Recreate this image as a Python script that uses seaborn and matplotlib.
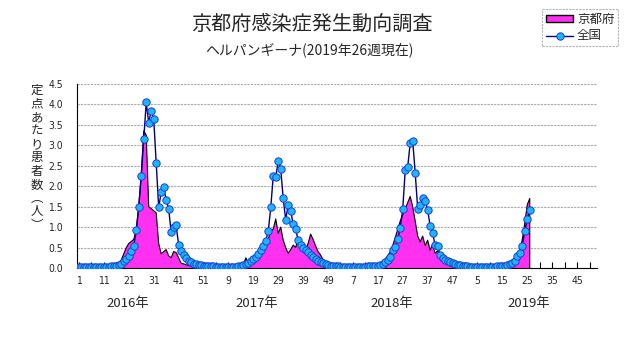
import numpy as np
import pandas as pd
import matplotlib
matplotlib.use("Agg")
import matplotlib.pyplot as plt
from matplotlib.patches import Patch
from matplotlib.lines import Line2D
import seaborn as sns

# ---------------- data ----------------
title = "京都府感染症発生動向調査"
subtitle = "ヘルパンギーナ(2019年26週現在)"
ylabel_chars = ["定", "点", "あ", "た", "り", "患", "者", "数", "︵", "人", "︶"]
series_labels = ["京都府", "全国"]
years = ["2016年", "2017年", "2018年", "2019年"]

kyoto_2016 = [0.03, 0.03, 0.02, 0.02, 0.02, 0.02, 0.02, 0.02, 0.02, 0.02,
              0.02, 0.03, 0.03, 0.04, 0.05, 0.06, 0.10, 0.20, 0.35, 0.50,
              0.60, 0.65, 0.70, 0.95, 1.50, 2.30, 3.35, 3.25, 1.50, 1.45,
              1.40, 1.35, 0.60, 0.35, 0.40, 0.45, 0.30, 0.25, 0.40, 0.38,
              0.25, 0.12, 0.10, 0.08, 0.06, 0.05, 0.05, 0.04, 0.04, 0.03, 0.03, 0.03]
kyoto_2017 = [0.04, 0.03, 0.02, 0.02, 0.02, 0.02, 0.02, 0.02, 0.02, 0.02,
              0.03, 0.03, 0.05, 0.05, 0.08, 0.25, 0.10, 0.15, 0.20, 0.30,
              0.38, 0.45, 0.50, 0.60, 0.70, 0.90, 0.95, 1.20, 0.85, 1.00,
              0.68, 0.50, 0.36, 0.45, 0.56, 0.50, 0.73, 0.68, 0.55, 0.44,
              0.60, 0.83, 0.70, 0.54, 0.40, 0.32, 0.20, 0.15, 0.10, 0.07, 0.05, 0.04]
kyoto_2018 = [0.03, 0.03, 0.02, 0.02, 0.02, 0.02, 0.02, 0.02, 0.02, 0.02,
              0.02, 0.03, 0.03, 0.04, 0.05, 0.05, 0.07, 0.10, 0.15, 0.22,
              0.30, 0.40, 0.55, 0.75, 0.95, 1.15, 1.30, 1.45, 1.60, 1.75,
              1.50, 1.15, 0.78, 0.64, 0.78, 0.55, 0.68, 0.44, 0.58, 0.36,
              0.42, 0.30, 0.25, 0.20, 0.15, 0.12, 0.10, 0.07, 0.05, 0.04, 0.03, 0.03]
kyoto_2019 = [0.02, 0.02, 0.02, 0.02, 0.02, 0.02, 0.02, 0.02, 0.02, 0.02,
              0.02, 0.03, 0.03, 0.03, 0.04, 0.05, 0.06, 0.08, 0.10, 0.15,
              0.30, 0.42, 0.70, 1.10, 1.55, 1.70]

national_2016 = [0.02, 0.02, 0.02, 0.02, 0.02, 0.02, 0.02, 0.02, 0.02, 0.02,
                 0.03, 0.03, 0.03, 0.04, 0.05, 0.06, 0.08, 0.11, 0.16, 0.22,
                 0.30, 0.42, 0.55, 0.92, 1.50, 2.25, 3.15, 4.05, 3.55, 3.85,
                 3.65, 2.58, 1.48, 1.85, 1.97, 1.67, 1.45, 0.88, 1.00, 1.04,
                 0.57, 0.42, 0.32, 0.24, 0.18, 0.14, 0.11, 0.09, 0.08, 0.07, 0.06, 0.05]
national_2017 = [0.05, 0.04, 0.04, 0.03, 0.03, 0.03, 0.03, 0.02, 0.02, 0.02,
                 0.03, 0.03, 0.04, 0.05, 0.07, 0.09, 0.12, 0.16, 0.21, 0.27,
                 0.35, 0.44, 0.54, 0.67, 0.90, 1.48, 2.25, 2.22, 2.62, 2.42,
                 1.70, 1.18, 1.55, 1.40, 1.07, 0.95, 0.68, 0.56, 0.50, 0.43,
                 0.38, 0.32, 0.27, 0.22, 0.18, 0.15, 0.12, 0.10, 0.08, 0.06, 0.05, 0.05]
national_2018 = [0.04, 0.03, 0.03, 0.02, 0.02, 0.02, 0.02, 0.02, 0.02, 0.03,
                 0.03, 0.03, 0.04, 0.04, 0.05, 0.05, 0.06, 0.08, 0.10, 0.14,
                 0.20, 0.27, 0.44, 0.52, 0.70, 0.99, 1.44, 2.40, 2.48, 3.06,
                 3.10, 2.33, 1.45, 1.54, 1.70, 1.65, 1.42, 1.03, 0.85, 0.56,
                 0.54, 0.32, 0.25, 0.20, 0.17, 0.14, 0.12, 0.10, 0.08, 0.07, 0.06, 0.05]
national_2019 = [0.04, 0.03, 0.03, 0.02, 0.02, 0.02, 0.02, 0.02, 0.02, 0.03,
                 0.03, 0.03, 0.04, 0.04, 0.05, 0.06, 0.08, 0.10, 0.12, 0.18,
                 0.29, 0.37, 0.55, 0.90, 1.19, 1.43]

x_tick_labels = ["1", "11", "21", "31", "41", "51", "9", "19", "29", "39", "49",
                 "7", "17", "27", "37", "47", "5", "15", "25", "35", "45"]
y_ticks = [0.0, 0.5, 1.0, 1.5, 2.0, 2.5, 3.0, 3.5, 4.0, 4.5]
year_label_pos = [20.5, 72.5, 126.7, 181.5]

# ---------------- figure ----------------
sns.set_theme(style="white")
plt.rcParams["font.family"] = ["Noto Sans CJK JP", "DejaVu Sans"]

kyoto = np.array(kyoto_2016 + kyoto_2017 + kyoto_2018 + kyoto_2019)
national = np.array(national_2016 + national_2017 + national_2018 + national_2019)
pos = np.arange(1, len(kyoto) + 1)
df = pd.DataFrame({"pos": pos, "kyoto": kyoto, "national": national})

fig = plt.figure(figsize=(6.31, 3.47), dpi=100)
ax = fig.add_axes([77 / 631, 1 - 268 / 347, 520 / 631, 184 / 347])

fill_color = "#FF30F0"
ax.fill_between(df["pos"], df["kyoto"], 0, facecolor=fill_color, edgecolor="none", zorder=2)
ax.plot(np.r_[df["pos"], df["pos"].iloc[-1]], np.r_[df["kyoto"], 0],
        color="black", lw=0.8, zorder=3)

mfc = "#1EB4FF"
mec = "#1A3FD0"
sns.lineplot(data=df, x="pos", y="national", ax=ax, color="#000080", lw=1.0,
             marker="o", markersize=5.3, markerfacecolor=mfc, markeredgecolor=mec,
             markeredgewidth=0.7, zorder=4)

ax.set_xlim(0.2, 209)
ax.set_ylim(0, 4.5)
ax.set_xlabel("")
ax.set_ylabel("")

major = np.arange(1, 202, 10)
ax.set_xticks(major)
ax.set_xticklabels(x_tick_labels, fontfamily="DejaVu Sans", fontstretch="condensed", fontsize=7.5)
ax.set_xticks(np.arange(6, 209, 10), minor=True)
ax.tick_params(axis="x", which="both", direction="in", length=4, width=0.8,
               color="black", pad=6, bottom=True)

ax.set_yticks(y_ticks)
ax.set_yticklabels([f"{v:.1f}" for v in y_ticks], fontfamily="DejaVu Sans",
                   fontstretch="condensed", fontsize=7.5)
ax.tick_params(axis="y", length=0, pad=10)

ax.yaxis.grid(True, color="#A8A8A8", linestyle=(0, (2, 1)), lw=0.8)
ax.xaxis.grid(False)
ax.set_axisbelow(True)
for s in ["top", "right"]:
    ax.spines[s].set_visible(False)
for s in ["left", "bottom"]:
    ax.spines[s].set_color("black")
    ax.spines[s].set_linewidth(0.8)

# year labels
trans = ax.get_xaxis_transform()
for xp, lab in zip(year_label_pos, years):
    ax.text(xp, -36 / 184, lab, transform=trans, ha="center", va="center", fontsize=9.5)

# titles
fig.text(312 / 631, 1 - 24 / 347, title, ha="center", va="center", fontsize=14.5)
fig.text(309 / 631, 1 - 50 / 347, subtitle, ha="center", va="center", fontsize=10)

# vertical y label as one stacked text
fig.text(37 / 631, 1 - 84 / 347, "\n".join(ylabel_chars), ha="center", va="top",
         fontsize=9, linespacing=1.05, multialignment="center")

# legend
handles = [Patch(facecolor=fill_color, edgecolor="black", linewidth=1.0),
           Line2D([0], [0], color="#000080", lw=1.0, marker="o", markersize=5.3,
                  markerfacecolor=mfc, markeredgecolor=mec, markeredgewidth=0.7)]
leg = fig.legend(handles, series_labels, loc="upper left",
                 bbox_to_anchor=(542 / 631, 1 - 9 / 347), fontsize=9,
                 frameon=True, fancybox=False, borderpad=0.3, labelspacing=0.3,
                 handlelength=2.2, handleheight=0.5, handletextpad=0.3, borderaxespad=0)
leg.get_frame().set_edgecolor("#A0A0A0")
leg.get_frame().set_linestyle((0, (2, 1)))
leg.get_frame().set_linewidth(0.8)

fig.savefig("out.png", dpi=100)
